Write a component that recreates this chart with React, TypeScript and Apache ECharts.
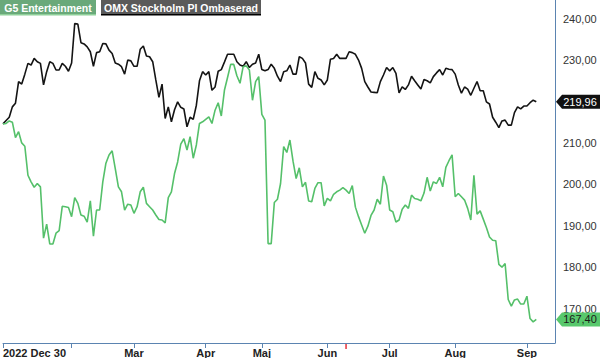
import React, { useEffect, useRef } from "react";
import * as echarts from "echarts";

// Swedish exchange holidays in the period (non-trading weekdays)
const holidays = ["2023-01-06", "2023-04-07", "2023-04-10", "2023-05-01", "2023-05-18", "2023-06-06", "2023-06-23"];
const startDate = "2022-12-30";
const categoryCount = 178;
const monthNames = ["Jan", "Feb", "Mar", "Apr", "Maj", "Jun", "Jul", "Aug", "Sep", "Okt", "Nov", "Dec"];
const firstLabel = "2022 Dec 30";
const eventDates = ["2023-06-12"];

const omxValues = [
  214.6, 215.4, 216.2, 218.7, 219.6, 224.8, 224.2, 226.6, 229.2, 228.8,
  230.4, 229.6, 229.2, 224.0, 227.2, 229.6, 229.2, 227.6, 227.6, 229.2,
  228.5, 227.3, 229.3, 238.8, 238.7, 234.2, 233.9, 233.2, 232.0, 228.5,
  231.8, 232.0, 234.0, 233.9, 232.4, 231.6, 229.3, 229.0, 228.4, 226.6,
  230.0, 229.8, 228.5, 228.5, 232.6, 233.4, 231.0, 230.8, 229.6, 225.2,
  221.0, 224.2, 215.9, 218.7, 215.1, 218.0, 219.9, 218.6, 218.2, 213.9,
  216.2, 215.7, 219.1, 225.0, 227.2, 226.4, 227.2, 222.7, 223.5, 227.3,
  227.7, 229.5, 231.4, 231.4, 231.4, 229.6, 228.8, 228.5, 229.6, 228.2,
  229.0, 229.3, 231.4, 227.7, 227.4, 227.7, 229.0, 228.0, 226.1, 224.8,
  227.2, 227.4, 228.8, 226.6, 226.6, 230.8, 230.4, 229.3, 224.2, 223.4,
  227.2, 225.6, 225.2, 224.0, 225.2, 230.2, 230.4, 231.4, 230.4, 230.4,
  230.4, 232.0, 231.8, 231.4, 230.0, 228.0, 224.8, 223.5, 222.3, 222.2,
  222.1, 224.8, 226.4, 228.2, 227.4, 228.2, 226.8, 222.1, 223.5, 222.9,
  224.0, 226.1, 225.0, 224.0, 223.0, 225.3, 225.0, 224.5, 226.0, 226.9,
  227.7, 226.4, 228.0, 227.8, 227.7, 226.6, 224.0, 222.0, 223.5, 223.0,
  221.5, 223.2, 224.8, 222.6, 222.6, 219.9, 219.4, 216.2, 215.0, 213.7,
  215.3, 215.5, 214.3, 214.3, 217.3, 218.7, 218.2, 218.9, 218.9, 219.7,
  220.3, 219.96,
];

const g5Values = [
  214.6, 214.7, 215.3, 215.0, 211.3, 212.7, 210.0, 209.2, 202.2, 200.6,
  199.3, 200.2, 199.4, 187.0, 190.4, 185.6, 185.6, 188.2, 188.8, 194.7,
  194.6, 194.4, 192.2, 196.8, 195.4, 192.6, 192.3, 190.9, 196.0, 187.5,
  193.8, 193.8, 200.6, 205.1, 207.1, 208.1, 203.8, 199.4, 198.2, 193.8,
  195.2, 195.0, 193.0, 194.6, 198.2, 199.3, 195.4, 194.6, 193.8, 192.6,
  191.5, 191.4, 190.7, 196.8, 198.2, 202.6, 205.4, 209.7, 211.0, 208.3,
  211.5, 206.3, 209.5, 214.7, 215.1, 215.7, 216.3, 214.7, 217.9, 219.7,
  216.5, 222.7, 225.8, 228.95, 228.95, 226.2, 224.4, 228.4, 228.6, 227.6,
  220.3, 224.8, 226.0, 216.9, 215.5, 185.7, 185.7, 195.6, 196.4, 200.2,
  209.1, 207.7, 210.7, 205.6, 201.4, 204.0, 199.4, 200.5, 196.0, 195.8,
  199.0, 200.4, 200.4, 194.8, 196.6, 196.0, 197.6, 198.2, 198.6, 199.2,
  198.6, 197.8, 199.7, 194.5, 192.2, 190.2, 188.2, 189.9, 192.5, 193.8,
  196.4, 195.2, 202.0, 199.8, 193.8, 193.4, 190.9, 191.4, 194.0, 195.0,
  194.2, 197.4, 196.6, 196.4, 196.0, 197.9, 201.7, 198.4, 200.6, 200.2,
  201.7, 199.4, 204.1, 205.7, 207.1, 197.0, 197.8, 197.0, 196.2, 194.2,
  191.4, 202.2, 192.8, 193.6, 191.6, 189.6, 187.3, 186.5, 186.4, 180.7,
  180.0, 180.9, 172.2, 170.6, 172.1, 172.3, 171.1, 171.1, 173.0, 167.6,
  166.8, 167.4,
];

const yMin = 161.7;
const yMax = 244.5;

function buildDates(): string[] {
  const out: string[] = [];
  const d = new Date(startDate + "T00:00:00Z");
  while (out.length < categoryCount) {
    const iso = d.toISOString().slice(0, 10);
    const wd = d.getUTCDay();
    if (wd !== 0 && wd !== 6 && !holidays.includes(iso)) out.push(iso);
    d.setUTCDate(d.getUTCDate() + 1);
  }
  return out;
}

const fmt = (v: number) => v.toFixed(2).replace(".", ",");
const FONT = "'Liberation Sans', Arial, sans-serif";

export default function App() {
  const ref = useRef<HTMLDivElement>(null);
  useEffect(() => {
    if (!ref.current) return;
    const chart = echarts.init(ref.current, null, { renderer: "svg" });
    const dates = buildDates();
    const monthOf = (i: number) => parseInt(dates[i].slice(5, 7), 10) - 1;
    const isMonthStart = (i: number) => i > 0 && monthOf(i) !== monthOf(i - 1);
    const axisColor = "#5b84b1";

    chart.setOption({
      animation: false,
      grid: { left: 0, right: 45, top: 0, bottom: 15 },
      xAxis: {
        type: "category",
        data: dates,
        boundaryGap: false,
        axisLine: { show: true, lineStyle: { color: axisColor, width: 1 } },
        axisTick: {
          show: true,
          length: 5,
          lineStyle: { color: axisColor },
          interval: (i: number) => i === 0 || (isMonthStart(i) && i > 1),
        },
        axisLabel: {
          interval: (i: number) => i === 0 || (isMonthStart(i) && monthOf(i) > 1),
          formatter: (_v: string, i: number) => (i === 0 ? firstLabel : monthNames[monthOf(i)]),
          color: "#222",
          fontSize: 11,
          fontWeight: "bold",
          fontFamily: FONT,
          margin: 4,
          alignMinLabel: "left",
        },
        splitLine: { show: false },
      },
      yAxis: {
        type: "value",
        position: "right",
        min: yMin,
        max: yMax,
        splitNumber: 8,
        minInterval: 10,
        maxInterval: 10,
        axisLine: { show: true, lineStyle: { color: axisColor } },
        axisTick: { show: false },
        splitLine: { show: false },
        axisLabel: {
          formatter: (v: number) => fmt(v),
          color: "#333",
          fontSize: 11,
          fontFamily: FONT,
          margin: 8,
          showMinLabel: false,
          showMaxLabel: false,
        },
      },
      series: [
        {
          name: "OMX Stockholm PI Ombaserad",
          type: "line",
          data: omxValues,
          showSymbol: false,
          lineStyle: { color: "#141414", width: 1.6 },
          itemStyle: { color: "#141414" },
        },
        {
          name: "G5 Entertainment",
          type: "line",
          data: g5Values,
          showSymbol: false,
          lineStyle: { color: "#55c06a", width: 1.6 },
          itemStyle: { color: "#55c06a" },
          markPoint: {
            symbol: "rect",
            symbolSize: [1.5, 5],
            symbolOffset: [0, 3.5],
            label: { show: false },
            itemStyle: { color: "#e8323a" },
            data: eventDates.map((d) => ({ coord: [d, yMin] })),
          },
        },
      ],
    });

    const lastOmx = omxValues[omxValues.length - 1];
    const lastG5 = g5Values[g5Values.length - 1];
    const yO = chart.convertToPixel({ yAxisIndex: 0 }, lastOmx) as number;
    const yG = chart.convertToPixel({ yAxisIndex: 0 }, lastG5) as number;

    const tag = (y: number, fill: string, textColor: string, txt: string) => [
      {
        type: "polygon",
        shape: {
          points: [
            [556, y],
            [562, y - 7],
            [600, y - 7],
            [600, y + 7],
            [562, y + 7],
          ],
        },
        style: { fill },
        z: 100,
      },
      {
        type: "text",
        x: 580,
        y: y,
        style: {
          text: txt,
          fill: textColor,
          font: `11px ${FONT}`,
          align: "center",
          verticalAlign: "middle",
        },
        z: 101,
      },
    ];

    chart.setOption({
      graphic: [
        { type: "rect", shape: { x: 0, y: 0, width: 96, height: 15 }, style: { fill: "#6aa97a" }, z: 100 },
        { type: "rect", shape: { x: 0, y: 14, width: 96, height: 1.5 }, style: { fill: "#8fd09a" }, z: 100 },
        {
          type: "text",
          x: 48,
          y: 7.5,
          style: { text: "G5 Entertainment", fill: "#fff", font: `bold 10.5px ${FONT}`, align: "center", verticalAlign: "middle" },
          z: 101,
        },
        { type: "rect", shape: { x: 101, y: 0, width: 160, height: 15 }, style: { fill: "#5a5a5a" }, z: 100 },
        { type: "rect", shape: { x: 101, y: 14, width: 160, height: 1.5 }, style: { fill: "#000" }, z: 100 },
        {
          type: "text",
          x: 181,
          y: 7.5,
          style: { text: "OMX Stockholm PI Ombaserad", fill: "#fff", font: `bold 10.5px ${FONT}`, align: "center", verticalAlign: "middle" },
          z: 101,
        },
        ...tag(yO, "#111111", "#ffffff", fmt(lastOmx)),
        ...tag(yG, "#58c86c", "#1a1a1a", fmt(lastG5)),
      ],
    });

    return () => chart.dispose();
  }, []);

  return <div ref={ref} style={{ position: "absolute", left: 0, top: 0, width: 600, height: 358 }} />;
}
